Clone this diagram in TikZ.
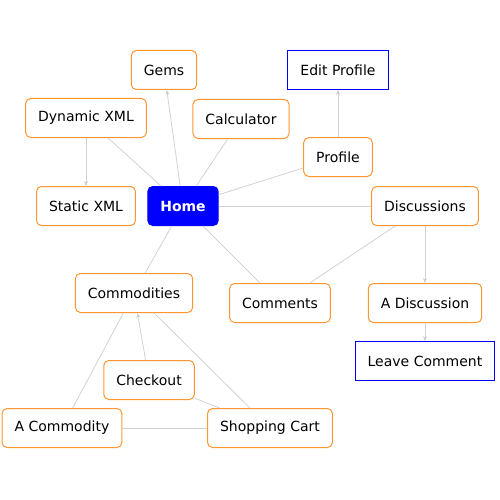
\documentclass[tikz,border=0pt]{standalone}
\usepackage{fontspec}
\setmainfont{DejaVu Sans}
\usetikzlibrary{arrows.meta}
\definecolor{pageorange}{RGB}{255,150,50}
\definecolor{linkgray}{RGB}{210,210,210}

\begin{document}
\begin{tikzpicture}[x=1pt,y=-1pt,
	page/.style={shape=rectangle,draw=pageorange,line width=1pt,rounded corners=5pt,fill=white,
		minimum height=39pt,inner xsep=12.5pt,font=\fontsize{14}{16}\selectfont},
	leaf/.style={page,draw=blue,rounded corners=0pt},
	home/.style={page,draw=blue,fill=blue,text=white,font=\fontsize{14}{16}\selectfont\bfseries},
	link/.style={draw=linkgray,line width=0.8pt},
	linkto/.style={link,-{Stealth[length=5pt,width=4pt]}}]
	\useasboundingbox (0,0) rectangle (500,500);

	\node[page] (gems)       at (164, 70)  {Gems};
	\node[leaf] (editprof)   at (338, 70)  {Edit Profile};
	\node[page] (dynxml)     at (86, 118)  {Dynamic XML};
	\node[page] (calc)       at (241, 119) {Calculator};
	\node[page] (profile)    at (338, 157) {Profile};
	\node[page] (statxml)    at (86, 206)  {Static XML};
	\node[home] (home)       at (183, 206) {Home};
	\node[page] (disc)       at (425, 206) {Discussions};
	\node[page] (commod)     at (134, 293) {Commodities};
	\node[page] (comments)   at (280, 303) {Comments};
	\node[page] (adisc)      at (425, 303) {A Discussion};
	\node[leaf] (leavecom)   at (425, 361) {Leave Comment};
	\node[page] (checkout)   at (149, 380) {Checkout};
	\node[page] (acommod)    at (62, 428)  {A Commodity};
	\node[page] (cart)       at (270, 428) {Shopping Cart};

	\path[linkto] (home) edge (gems);
	\path[link] (home) edge (dynxml);
	\path[link] (home) edge (calc);
	\path[link] (home) edge (profile);
	\path[link] (home) edge (disc);
	\path[link] (home) edge (commod);
	\path[link] (home) edge (comments);
	\path[linkto] (dynxml) edge (statxml);
	\path[linkto] (profile) edge (editprof);
	\path[linkto] (disc) edge (adisc);
	\path[link] (disc) edge (comments);
	\path[linkto] (adisc) edge (leavecom);
	\path[link] (commod) edge (acommod);
	\path[linkto] (checkout) edge (commod);
	\path[link] (commod) edge (cart);
	\path[link] (checkout) edge (cart);
	\path[link] (acommod) edge (cart);
\end{tikzpicture}
\end{document}
